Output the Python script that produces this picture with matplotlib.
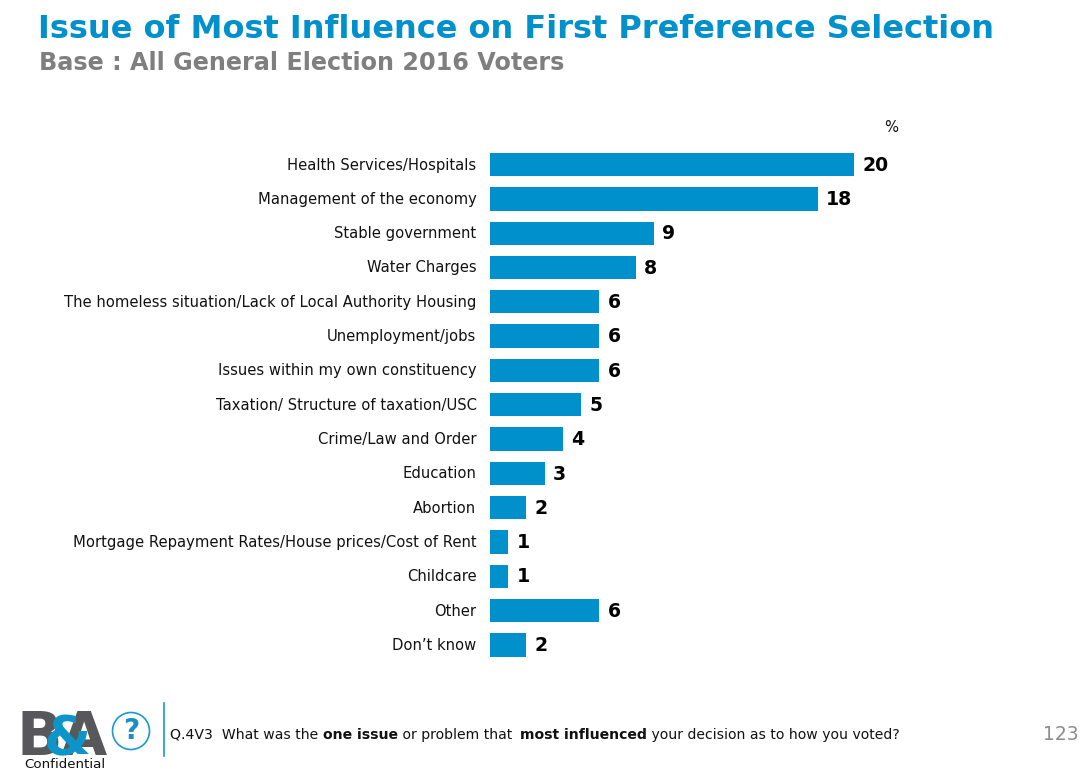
import matplotlib
matplotlib.use("Agg")
import matplotlib.pyplot as plt
from matplotlib.patches import Circle
from matplotlib.transforms import ScaledTranslation

issues = ["Health Services/Hospitals", "Management of the economy", "Stable government",
          "Water Charges", "The homeless situation/Lack of Local Authority Housing",
          "Unemployment/jobs", "Issues within my own constituency",
          "Taxation/ Structure of taxation/USC", "Crime/Law and Order", "Education",
          "Abortion", "Mortgage Repayment Rates/House prices/Cost of Rent", "Childcare",
          "Other", "Don\u2019t know"]
values = [20, 18, 9, 8, 6, 6, 6, 5, 4, 3, 2, 1, 1, 6, 2]
title = "Issue of Most Influence on First Preference Selection"
subtitle = "Base : All General Election 2016 Voters"
question = [("Q.4V3  What was the ", "normal"), ("one issue", "bold"), (" or problem that ", "normal"),
            ("most influenced", "bold"), (" your decision as to how you voted?", "normal")]

W, H = 1088, 769
BLUE = "#0090cb"
GREY = "#7f7f7f"

fig = plt.figure(figsize=(W / 100, H / 100), dpi=100)
plt.rcParams['font.family'] = ['DejaVu Sans']

# bars live in their own axes, pixel box 490..1088 by 147.4..662
ax = fig.add_axes([490 / W, 1 - 662 / H, (W - 490) / W, (662 - 147.4) / H])
ypos = list(range(len(issues)))
ax.barh(ypos, values, height=0.68, color=BLUE)
ax.set_xlim(0, (W - 490) / 18.2)
ax.set_ylim(len(issues) - 0.5, -0.5)
ax.set_yticks(ypos)
ax.set_yticklabels(issues, fontsize=10.6, color="#111111", va="center_baseline")
ax.tick_params(axis="y", length=0, pad=13.5 * 0.72)
ax.set_xticks([])
for lab in ax.get_yticklabels():
    lab.set_transform(lab.get_transform() + ScaledTranslation(0, 1 / 100, fig.dpi_scale_trans))
for s in ax.spines.values():
    s.set_visible(False)
for y, v in zip(ypos, values):
    ax.annotate(str(v), (v, y), xytext=(6, -0.5), textcoords="offset points", va="center",
                fontsize=13.6, fontweight="bold", color="black")


def ftext(x, y, s, **kw):
    return fig.text(x / W, 1 - y / H, s, **kw)


ftext(38, 29.5, title, fontsize=23.05, fontweight="bold", color=BLUE, va="center")
ftext(39, 63, subtitle, fontsize=17.2, fontweight="bold", color=GREY, va="center")
ftext(884, 128, "%", fontsize=10.6, color="#111111", va="center")

# footer question, mixed weights placed one after another
fig.canvas.draw()
r = fig.canvas.get_renderer()
x = 170
for part, weight in question:
    t = ftext(x, 739, part, fontsize=10.1, fontweight=weight, color="#111111", va="baseline")
    x = x + t.get_window_extent(r).width
    if part.endswith("that "):
        x += 3.5

ftext(1079, 735, "123", fontsize=13.5, color="#8c8c8c", va="center", ha="right")

# logo
ftext(17, 755, "B", fontsize=43, fontweight="bold", color="#58585a", va="baseline")
ftext(61, 755, "A", fontsize=43, fontweight="bold", color="#58585a", va="baseline")
ftext(44, 754, "&", fontsize=39, fontweight="bold", color="#0d94c8", va="baseline")
ftext(64.5, 764, "Confidential", fontsize=9.6, color="#111111", va="center", ha="center")

overlay = fig.add_axes([0, 0, 1, 1])
overlay.set_xlim(0, W)
overlay.set_ylim(H, 0)
overlay.axis("off")
overlay.patch.set_alpha(0)
overlay.add_patch(Circle((131, 731), 18.5, fc="white", ec="#1a9ad0", lw=1.2))
overlay.text(131, 731, "?", fontsize=20, fontweight="bold", color="#1a8fc4", ha="center", va="center")
overlay.plot([163.5, 163.5], [703, 756], color="#1a9ad0", lw=1.2)

fig.savefig("out.png", dpi=100)
